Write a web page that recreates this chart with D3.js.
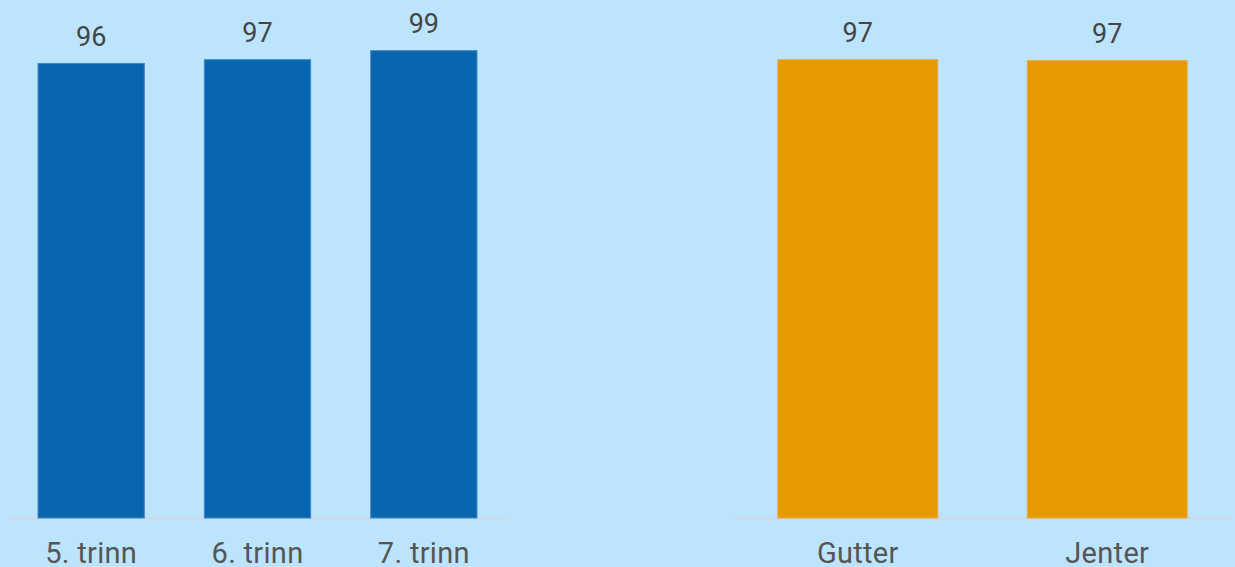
<!DOCTYPE html>
<html>
<head>
<meta charset="utf-8">
<script src="https://cdn.jsdelivr.net/npm/d3@7"></script>
<style>
  html, body { margin: 0; padding: 0; background: #bde4fd; }
  svg { display: block; }
</style>
</head>
<body>
<svg id="chart" width="1235" height="567"></svg>
<script>
// Data
const gradeCategories = ["5. trinn", "6. trinn", "7. trinn"];
const gradeValues = [96.2, 97.0, 98.9];
const genderCategories = ["Gutter", "Jenter"];
const genderValues = [97.0, 96.8];

const W = 1235, H = 567;
const svg = d3.select("#chart");
svg.append("rect").attr("width", W).attr("height", H).attr("fill", "#bde4fd");

const y = d3.scaleLinear().domain([0, 100]).range([518, 45]);
const fmt = d3.format(".0f");

function panel(cats, vals, x0, x1, color, stroke) {
  const x = d3.scaleBand().domain(cats).range([x0, x1])
    .paddingInner(0.355).paddingOuter(0.1775);
  const g = svg.append("g");
  g.append("line")
    .attr("x1", x0).attr("x2", x1)
    .attr("y1", y(0) + 0.5).attr("y2", y(0) + 0.5)
    .attr("stroke", "#d3d6d9").attr("stroke-width", 2);
  const data = cats.map((c, i) => ({ c, v: vals[i] }));
  g.selectAll("rect.bar").data(data).enter().append("rect")
    .attr("class", "bar")
    .attr("x", d => x(d.c) + 0.5)
    .attr("width", x.bandwidth() - 1)
    .attr("y", d => y(d.v) + 0.5)
    .attr("height", d => y(0) - y(d.v) - 0.5)
    .attr("fill", color)
    .attr("stroke", stroke).attr("stroke-width", 1);
  g.selectAll("text.val").data(data).enter().append("text")
    .attr("class", "val")
    .attr("x", d => x(d.c) + x.bandwidth() / 2)
    .attr("y", d => y(d.v) - 17)
    .attr("text-anchor", "middle")
    .attr("font-family", "Roboto, 'Liberation Sans', sans-serif")
    .attr("font-size", 27)
    .attr("fill", "#444444")
    .text(d => fmt(d.v));
  g.selectAll("text.cat").data(data).enter().append("text")
    .attr("class", "cat")
    .attr("x", d => x(d.c) + x.bandwidth() / 2)
    .attr("y", 563)
    .attr("text-anchor", "middle")
    .attr("font-family", "Roboto, 'Liberation Sans', sans-serif")
    .attr("font-size", 29)
    .attr("letter-spacing", 0.3)
    .attr("fill", "#555555")
    .text(d => d.c);
}

panel(gradeCategories, gradeValues, 8, 507, "#0866b0", "#3d88c6");
panel(genderCategories, genderValues, 733, 1232, "#e69a00", "#e9ab45");
</script>
</body>
</html>
